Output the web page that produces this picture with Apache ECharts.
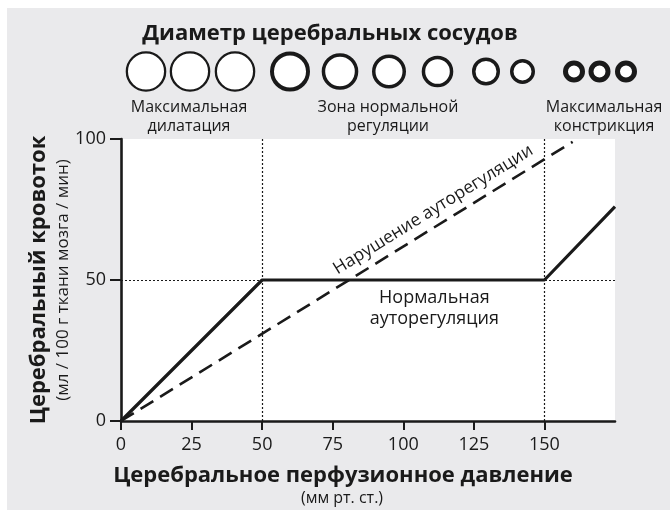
<!DOCTYPE html>
<html><head><meta charset="utf-8">
<script src="https://cdn.jsdelivr.net/npm/echarts@6/dist/echarts.min.js"></script>
<style>html,body{margin:0;padding:0;background:#fff}#c{width:670px;height:510px}</style>
</head><body><div id="c"></div>
<script>
// ---- data ----
const xTicks = [0, 25, 50, 75, 100, 125, 150];
const yTicks = [0, 50, 100];
const normalCurve = [[0, 0], [50, 50], [150, 50], [175, 76]];
const impairedCurve = [[0, 0], [160, 99]];
const refX = [50, 150];
const refY = [50];
const titleText = 'Диаметр церебральных сосудов';
const zoneLabels = ['Максимальная\nдилатация', 'Зона нормальной\nрегуляции', 'Максимальная\nконстрикция'];
const xName = 'Церебральное перфузионное давление';
const xUnit = '(мм рт. ст.)';
const yName = 'Церебральный кровоток';
const yUnit = '(мл / 100 г ткани мозга / мин)';
const impairedLabel = 'Нарушение ауторегуляции';
const normalLabel = 'Нормальная\nауторегуляция';

// ---- styling / layout ----
const FONT = '"Open Sans", "Noto Sans", sans-serif';
const BG = '#eaeaec';
const INK = '#1a1a1a';
const circles = [
  [146, 20.3, 2.3], [190, 20.3, 2.3], [235, 20.3, 2.3], [290, 20, 4],
  [340, 18.3, 3.5], [389, 17, 3.5], [437.5, 15.8, 3.5], [486, 14, 3.5],
  [522.5, 12.5, 3.5], [574, 11, 5], [599.5, 11, 5], [626, 11, 5]
];
const zonePos = [[189, 117], [388, 117], [604, 117]];

const chart = echarts.init(document.getElementById('c'), null, {renderer: 'canvas'});

const graphics = [
  {type: 'rect', shape: {x: 0, y: 0, width: 7, height: 510}, style: {fill: '#fff'}, silent: true},
  {type: 'rect', shape: {x: 0, y: 0, width: 670, height: 8}, style: {fill: '#fff'}, silent: true},
  {type: 'text', x: 330, y: 34, style: {text: titleText, font: 'bold 22px ' + FONT, fill: INK, align: 'center', verticalAlign: 'middle'}},
  {type: 'text', x: 343, y: 476, style: {text: xName, font: 'bold 22px ' + FONT, fill: INK, align: 'center', verticalAlign: 'middle'}},
  {type: 'text', x: 342, y: 498, style: {text: xUnit, font: '16px ' + FONT, fill: INK, align: 'center', verticalAlign: 'middle'}},
  {type: 'text', x: 39, y: 280, rotation: Math.PI / 2, style: {text: yName, font: 'bold 22px ' + FONT, fill: INK, align: 'center', verticalAlign: 'middle'}},
  {type: 'text', x: 63, y: 280, rotation: Math.PI / 2, style: {text: yUnit, font: '17px ' + FONT, fill: INK, align: 'center', verticalAlign: 'middle'}}
];
circles.forEach(c => graphics.push({
  type: 'circle', shape: {cx: c[0], cy: 71.5, r: c[1] - c[2] / 2},
  style: {fill: '#fff', stroke: INK, lineWidth: c[2]}
}));
zoneLabels.forEach((t, i) => graphics.push({
  type: 'text', x: zonePos[i][0], y: zonePos[i][1],
  style: {text: t, font: '16px ' + FONT, lineHeight: 19, fill: INK, align: 'center', verticalAlign: 'middle'}
}));

chart.setOption({
  backgroundColor: BG,
  animation: false,
  textStyle: {fontFamily: FONT},
  grid: {left: 121, top: 139, right: 55, bottom: 89, show: true, backgroundColor: '#fff', borderWidth: 0},
  xAxis: {
    type: 'value', min: 0, max: 175, interval: 25,
    axisLine: {lineStyle: {color: INK, width: 2.6}},
    axisTick: {show: true, length: 9, lineStyle: {color: INK, width: 2}, customValues: xTicks},
    axisLabel: {color: INK, fontSize: 18, margin: 15, fontFamily: FONT, customValues: xTicks},
    splitLine: {show: false}
  },
  yAxis: {
    type: 'value', min: 0, max: 100, interval: 50,
    axisLine: {show: true, lineStyle: {color: INK, width: 2.6}},
    axisTick: {show: true, length: 11, lineStyle: {color: INK, width: 2}, customValues: yTicks},
    axisLabel: {color: INK, fontSize: 18, margin: 15, fontFamily: FONT, customValues: yTicks},
    splitLine: {show: false}
  },
  series: [
    {
      type: 'line', data: impairedCurve, symbol: 'none', z: 3,
      lineStyle: {color: INK, width: 2.6, type: [15, 8]}
    },
    {
      type: 'line', data: normalCurve, symbol: 'none', z: 4,
      lineStyle: {color: INK, width: 3.2},
      markLine: {
        silent: true, symbol: 'none', label: {show: false},
        lineStyle: {color: INK, width: 1.2, type: [2, 2]},
        data: refX.map(v => ({xAxis: v})).concat(refY.map(v => ({yAxis: v})))
      }
    }
  ],
  graphic: graphics
});

// labels anchored on the curves through the axes
const a = chart.convertToPixel({gridIndex: 0}, impairedCurve[0]);
const b = chart.convertToPixel({gridIndex: 0}, impairedCurve[1]);
const ang = Math.atan2(a[1] - b[1], b[0] - a[0]);
const lx = 113.5;
const p = chart.convertToPixel({gridIndex: 0}, [lx, lx * impairedCurve[1][1] / impairedCurve[1][0]]);
const off = 15.5;
const tx = p[0] - Math.sin(ang) * off, ty = p[1] - Math.cos(ang) * off;
const n = chart.convertToPixel({gridIndex: 0}, [111, 50]);
graphics.push({
  type: 'text', x: tx, y: ty, rotation: ang,
  style: {text: impairedLabel, font: '17.5px ' + FONT, fill: INK, align: 'center', verticalAlign: 'middle'}
});
graphics.push({
  type: 'text', x: n[0], y: n[1] + 28,
  style: {text: normalLabel, font: '18px ' + FONT, lineHeight: 21, fill: INK, align: 'center', verticalAlign: 'middle'}
});
chart.setOption({graphic: graphics}, {replaceMerge: ['graphic']});
</script></body></html>
